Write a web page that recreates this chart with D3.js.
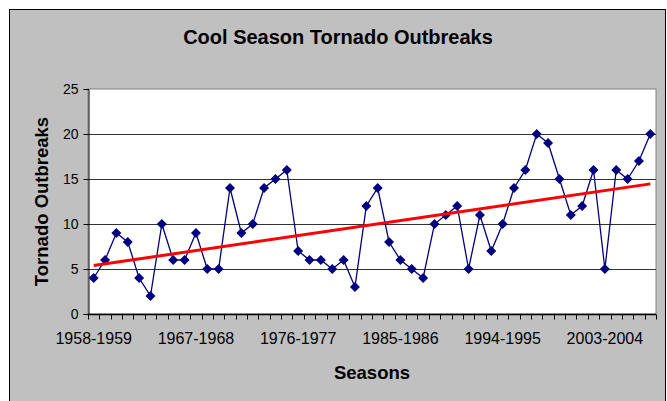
<!DOCTYPE html>
<html>
<head>
<meta charset="utf-8">
<script src="https://cdn.jsdelivr.net/npm/d3@7"></script>
<style>
  body { margin: 0; background: #fff; }
  text { font-family: Arial, "Liberation Sans", sans-serif; fill: #000; }
</style>
</head>
<body>
<div id="chart"></div>
<script>
// ===== Data ======================================================
const startYears = d3.range(1958, 2008);   // 1958-1959 ... 2007-2008
const seasons = startYears.map(y => `${y}-${y + 1}`);
const outbreaks = [4, 6, 9, 8, 4, 2, 10, 6, 6, 9,
                   5, 5, 14, 9, 10, 14, 15, 16, 7, 6,
                   6, 5, 6, 3, 12, 14, 8, 6, 5, 4,
                   10, 11, 12, 5, 11, 7, 10, 14, 16, 20,
                   19, 15, 11, 12, 16, 5, 16, 15, 17, 20];
const yTicks = [0, 5, 10, 15, 20, 25];
const xLabels = ['1958-1959', '1967-1968', '1976-1977', '1985-1986', '1994-1995', '2003-2004'];

// ===== Layout ====================================================
const svgWidth = 667;
const svgHeight = 401;
const svgMargin = { top: 89, right: 11, bottom: 87, left: 88 };
const width = svgWidth - svgMargin.left - svgMargin.right;
const height = svgHeight - svgMargin.top - svgMargin.bottom;

const svg = d3.select('#chart').append('svg')
    .attr('width', svgWidth)
    .attr('height', svgHeight);

// chart frame
svg.append('rect')
    .attr('x', 9.5).attr('y', 9.5)
    .attr('width', 656).attr('height', 400)
    .attr('fill', '#c0c0c0')
    .attr('stroke', '#000');

const chartGroup = svg.append('g').attr('transform', `translate(${svgMargin.left}, ${svgMargin.top})`);

chartGroup.append('rect')
    .attr('x', 0).attr('y', 0)
    .attr('width', width).attr('height', height)
    .attr('fill', '#fff')
    .attr('stroke', '#808080');

const xBand = d3.scaleBand().domain(seasons).range([0, width]);
const yLinearScale = d3.scaleLinear().domain([0, 25]).range([height, 0]);
const xc = d => xBand(d) + xBand.bandwidth() / 2;

// gridlines
chartGroup.selectAll('.grid').data(yTicks.filter(t => t > 0 && t < 25))
    .enter().append('line')
    .attr('x1', 0).attr('x2', width)
    .attr('y1', d => Math.round(yLinearScale(d)) + 0.5)
    .attr('y2', d => Math.round(yLinearScale(d)) + 0.5)
    .attr('stroke', '#333')
    .attr('stroke-width', 1.2);

// y axis
const gLeftAxis = chartGroup.append('g').attr('transform', 'translate(0.5,0)')
    .call(d3.axisLeft(yLinearScale).tickValues(yTicks).tickSize(5).tickPadding(5));
gLeftAxis.select('.domain').attr('stroke', '#000');
gLeftAxis.selectAll('text').style('font-size', '14px');

// x axis: tick marks between categories, labels every 9 seasons
const gBottom = chartGroup.append('g').attr('transform', `translate(0, ${height + 0.5})`);
gBottom.append('line').attr('x1', 0).attr('x2', width).attr('stroke', '#000').attr('stroke-width', 1.5);
gBottom.selectAll('.tk').data(d3.range(seasons.length + 1))
    .enter().append('line')
    .attr('x1', i => Math.round(i * xBand.step()) + 0.5)
    .attr('x2', i => Math.round(i * xBand.step()) + 0.5)
    .attr('y1', 0).attr('y2', 5)
    .attr('stroke', '#000');
gBottom.selectAll('.lbl').data(xLabels)
    .enter().append('text')
    .attr('x', d => xc(d))
    .attr('y', 29)
    .attr('text-anchor', 'middle')
    .style('font-size', '16px')
    .text(d => d);

// series line + diamond markers
const line = d3.line().x((d, i) => xc(seasons[i])).y(d => yLinearScale(d));
chartGroup.append('path')
    .datum(outbreaks)
    .attr('d', line)
    .attr('fill', 'none')
    .attr('stroke', '#000080')
    .attr('stroke-width', 1.3);

chartGroup.selectAll('.pt').data(outbreaks)
    .enter().append('path')
    .attr('transform', (d, i) => `translate(${xc(seasons[i])},${yLinearScale(d)})`)
    .attr('d', 'M0,-5L5,0L0,5L-5,0Z')
    .attr('fill', '#000080');

// linear trend (least squares)
const xs = d3.range(outbreaks.length);
const mx = d3.mean(xs), my = d3.mean(outbreaks);
const slope = d3.sum(xs, i => (i - mx) * (outbreaks[i] - my)) / d3.sum(xs, i => (i - mx) ** 2);
const icpt = my - slope * mx;
const last = outbreaks.length - 1;
chartGroup.append('line')
    .attr('x1', xc(seasons[0])).attr('y1', yLinearScale(icpt))
    .attr('x2', xc(seasons[last])).attr('y2', yLinearScale(icpt + slope * last))
    .attr('stroke', '#ff0000')
    .attr('stroke-width', 3);

// titles
svg.append('text')
    .attr('x', 338).attr('y', 44)
    .attr('text-anchor', 'middle')
    .style('font-size', '20px').style('font-weight', 'bold')
    .text('Cool Season Tornado Outbreaks');

svg.append('text')
    .attr('transform', `translate(48, ${svgMargin.top + height / 2}) rotate(-90)`)
    .attr('text-anchor', 'middle')
    .style('font-size', '18.5px').style('font-weight', 'bold')
    .text('Tornado Outbreaks');

svg.append('text')
    .attr('x', svgMargin.left + width / 2).attr('y', 379)
    .attr('text-anchor', 'middle')
    .style('font-size', '18.5px').style('font-weight', 'bold')
    .text('Seasons');
</script>
</body>
</html>
